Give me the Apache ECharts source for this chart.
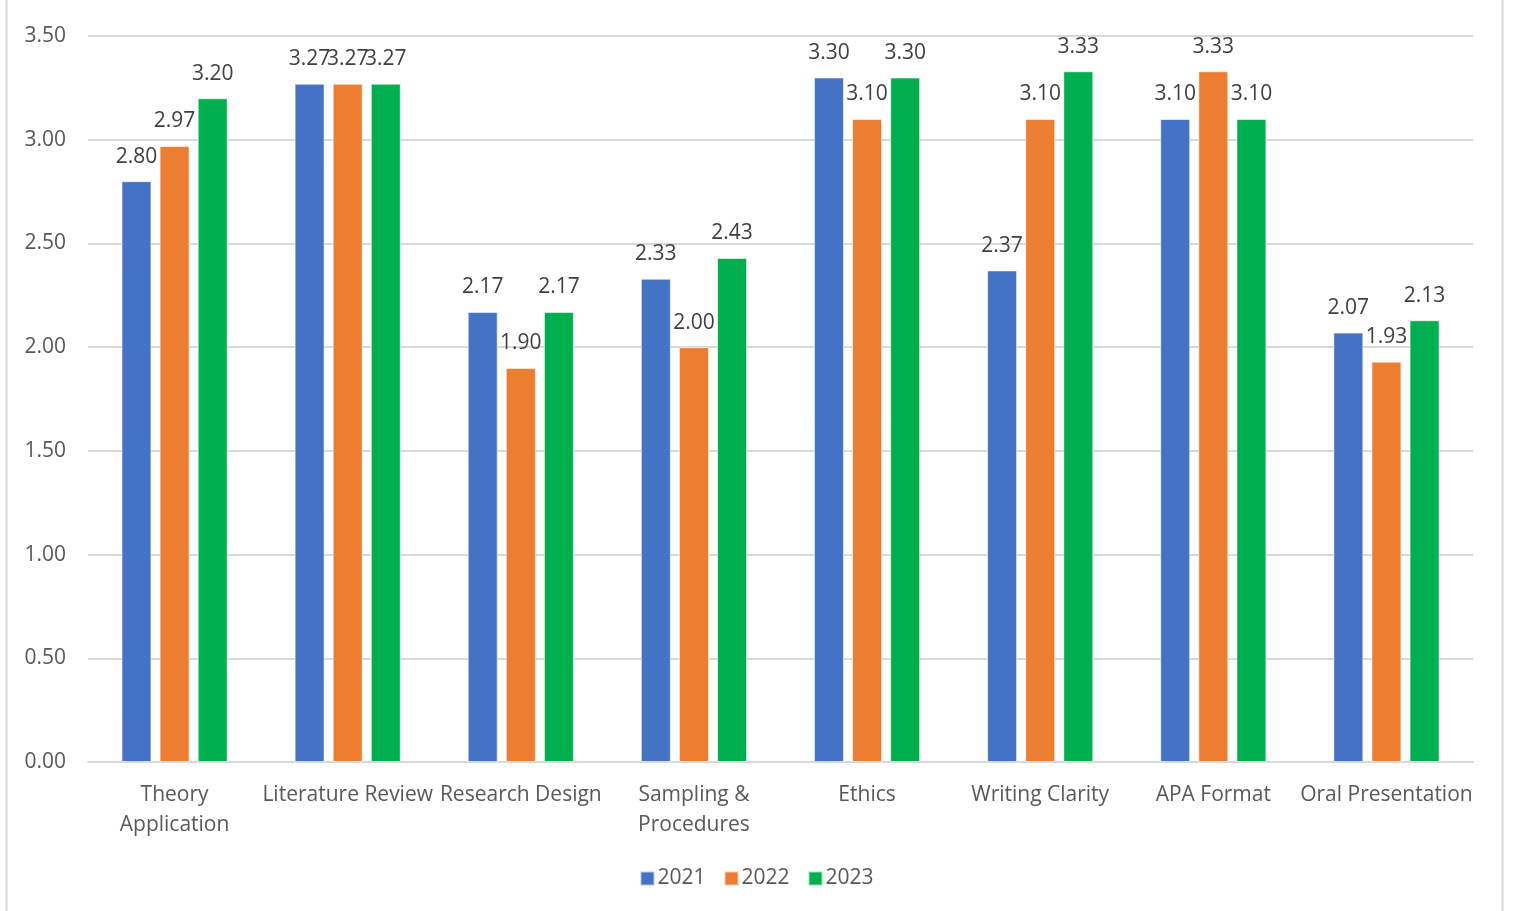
<!DOCTYPE html>
<html>
<head>
<meta charset="utf-8">
<script src="https://cdn.jsdelivr.net/npm/echarts@6/dist/echarts.min.js"></script>
<style>
html,body{margin:0;padding:0;background:#fff;}
#c{width:1513px;height:911px;}
</style>
</head>
<body>
<div id="c"></div>
<script>
const categories = ["Theory\nApplication", "Literature Review", "Research Design", "Sampling &\nProcedures", "Ethics", "Writing Clarity", "APA Format", "Oral Presentation"];
const seriesNames = ["2021", "2022", "2023"];
const values2021 = [2.80, 3.27, 2.17, 2.33, 3.30, 2.37, 3.10, 2.07];
const values2022 = [2.97, 3.27, 1.90, 2.00, 3.10, 3.10, 3.33, 1.93];
const values2023 = [3.20, 3.27, 2.17, 2.43, 3.30, 3.33, 3.10, 2.13];
const yTicks = {min: 0, max: 3.5, interval: 0.5};

const colors = ["#4472C4", "#ED7D31", "#00B050"];
const FONT = "'Open Sans', 'Noto Sans', sans-serif";
const chart = echarts.init(document.getElementById('c'));
const allValues = [values2021, values2022, values2023];
chart.setOption({
  animation: false,
  textStyle: {fontFamily: FONT},
  grid: {left: 88, right: 40, top: 36, bottom: 149, containLabel: false},
  legend: {
    bottom: 17, left: 'center',
    itemWidth: 14, itemHeight: 14, itemGap: 18,
    icon: 'rect',
    textStyle: {fontSize: 21, color: '#595959', fontFamily: FONT, padding: [0,0,0,-2]},
    data: seriesNames
  },
  xAxis: {
    type: 'category', data: categories,
    axisLine: {lineStyle: {color: '#D9D9D9', width: 2}},
    axisTick: {show: false},
    axisLabel: {fontSize: 21, color: '#595959', lineHeight: 30, margin: 18, interval: 0, fontFamily: FONT}
  },
  yAxis: {
    type: 'value', min: yTicks.min, max: yTicks.max, interval: yTicks.interval,
    axisLine: {show: false}, axisTick: {show: false},
    splitLine: {lineStyle: {color: '#D9D9D9', width: 2}},
    axisLabel: {fontSize: 21, color: '#595959', margin: 22, fontFamily: FONT, formatter: v => v.toFixed(2)}
  },
  graphic: [
    {type: 'line', shape: {x1: 6.5, y1: 0, x2: 6.5, y2: 911}, style: {stroke: '#D9D9D9', lineWidth: 2}},
    {type: 'line', shape: {x1: 1502.5, y1: 0, x2: 1502.5, y2: 911}, style: {stroke: '#D9D9D9', lineWidth: 2}}
  ],
  series: seriesNames.map((n, i) => ({
    name: n, type: 'bar', data: allValues[i],
    barWidth: 30, barGap: '27%',
    itemStyle: {color: colors[i], borderColor: 'rgba(255,255,255,0.6)', borderWidth: 1},
    label: {show: true, position: 'top', distance: 14, fontSize: 21, color: '#404040', fontFamily: FONT, formatter: p => p.value.toFixed(2)}
  }))
});
</script>
</body>
</html>
